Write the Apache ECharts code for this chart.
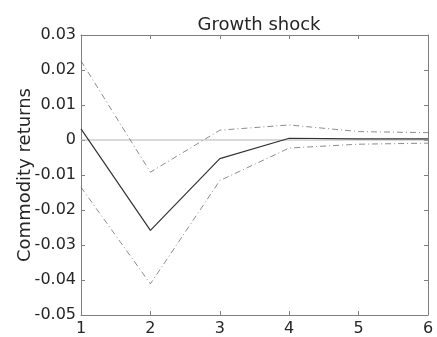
<!DOCTYPE html>
<html><head><meta charset="utf-8">
<script src="https://cdn.jsdelivr.net/npm/echarts@6/dist/echarts.min.js"></script>
<style>html,body{margin:0;padding:0;background:#fff}#c{width:437px;height:337px}</style>
</head><body><div id="c"></div>
<script>
var horizons = [1, 2, 3, 4, 5, 6];
var median = [0.0032, -0.0258, -0.0053, 0.0005, 0.0003, 0.0003];
var upper = [0.0226, -0.0092, 0.0028, 0.0043, 0.0024, 0.0021];
var lower = [-0.0135, -0.0411, -0.0116, -0.0023, -0.0012, -0.0009];
var zeroLine = [0, 0, 0, 0, 0, 0];
var yTicks = [-0.05, -0.04, -0.03, -0.02, -0.01, 0, 0.01, 0.02, 0.03];

function pairs(v){ return horizons.map(function(x,i){ return [x, v[i]]; }); }
var font = 'DejaVu Sans';
var axisCol = '#7f7f7f';
var txt = '#262626';
var chart = echarts.init(document.getElementById('c'), null, {renderer:'canvas'});
var dashDot = [6, 3, 1, 3];
chart.setOption({
  animation: false,
  backgroundColor: '#fff',
  title: {text: 'Growth shock', left: 254, top: 11, textAlign: 'center',
    textStyle: {fontFamily: font, fontSize: 18, fontWeight: 'normal', color: txt}},
  grid: {left: 81, right: 9, top: 35, bottom: 22, containLabel: false},
  xAxis: [
    {type: 'value', min: 1, max: 6, interval: 1, position: 'bottom',
     axisLine: {show: true, onZero: false, lineStyle: {color: axisCol, width: 1}},
     axisTick: {show: true, inside: true, length: 4, lineStyle: {color: axisCol}},
     axisLabel: {fontFamily: font, fontSize: 16, color: txt, margin: 6},
     splitLine: {show: false}},
    {type: 'value', min: 1, max: 6, interval: 1, position: 'top',
     axisLine: {show: true, onZero: false, lineStyle: {color: axisCol, width: 1}},
     axisTick: {show: true, inside: true, length: 4, lineStyle: {color: axisCol}},
     axisLabel: {show: false}, splitLine: {show: false}}
  ],
  yAxis: [
    {type: 'value', min: -0.05, max: 0.03, interval: 0.01, position: 'left',
     name: 'Commodity returns', nameLocation: 'middle', nameGap: 47, nameMoveOverlap: false,
     nameTextStyle: {fontFamily: font, fontSize: 18, color: txt},
     axisLine: {show: true, onZero: false, lineStyle: {color: axisCol, width: 1}},
     axisTick: {show: true, inside: true, length: 4, lineStyle: {color: axisCol}},
     axisLabel: {fontFamily: font, fontSize: 16, color: txt, margin: 5,
       formatter: function(v){ var r = Math.round(v*100)/100; if (Math.abs(r) < 1e-9) return '0'; return r.toFixed(2); }},
     splitLine: {show: false}},
    {type: 'value', min: -0.05, max: 0.03, interval: 0.01, position: 'right',
     axisLine: {show: true, onZero: false, lineStyle: {color: axisCol, width: 1}},
     axisTick: {show: true, inside: true, length: 4, lineStyle: {color: axisCol}},
     axisLabel: {show: false}, splitLine: {show: false}}
  ],
  series: [
    {type: 'line', data: pairs(zeroLine), symbol: 'none', silent: true,
     lineStyle: {color: '#b3b3b3', width: 1.2}, z: 1},
    {type: 'line', data: pairs(upper), symbol: 'none',
     lineStyle: {color: '#6e6e6e', width: 0.8, type: dashDot}, z: 2},
    {type: 'line', data: pairs(lower), symbol: 'none',
     lineStyle: {color: '#6e6e6e', width: 0.8, type: dashDot}, z: 2},
    {type: 'line', data: pairs(median), symbol: 'none',
     lineStyle: {color: '#333333', width: 1.2, type: 'solid'}, z: 3}
  ]
});
</script></body></html>
